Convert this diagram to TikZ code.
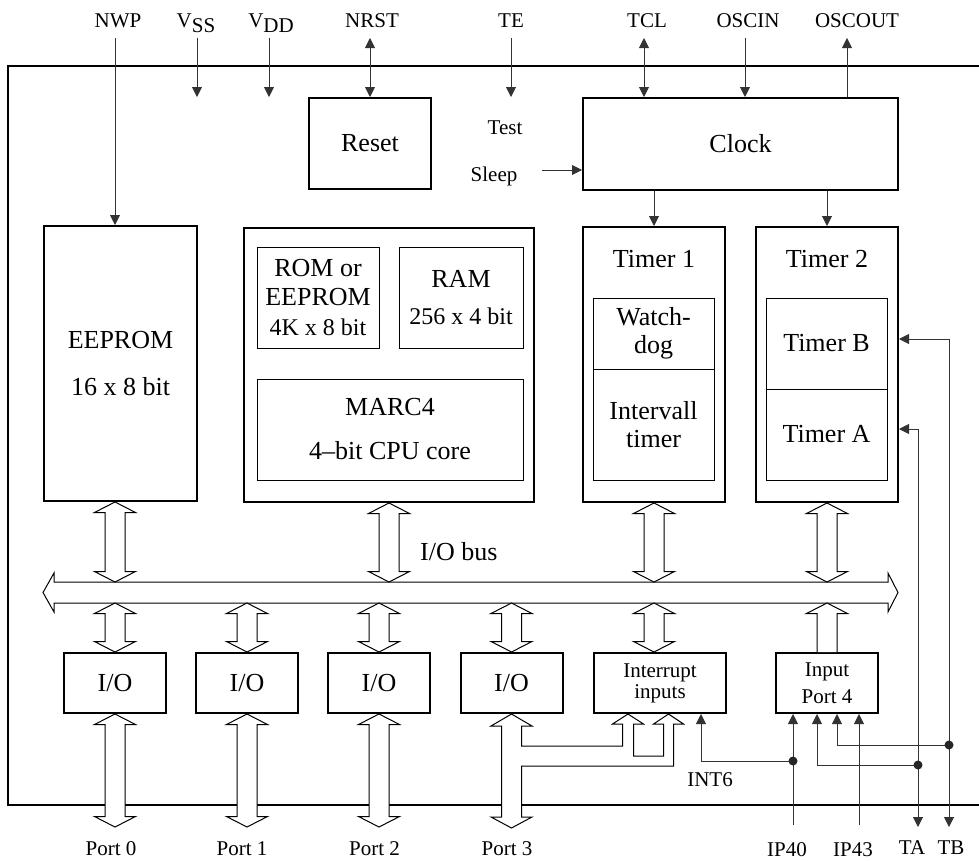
\documentclass[tikz,border=0pt]{standalone}
\usepackage{fontspec}
\setmainfont{Liberation Serif}
\usetikzlibrary{arrows.meta,calc}

% wide hollow arrow with a head at both ends (x taken from #1)
\newcommand{\hollowarrow}[2]{%
  \draw[hollow] let \p1=(#1), \p2=(#2) in
    (\x1,\y1) -- (\x1+20.5,\y1-10.5) -- (\x1+10,\y1-10.5)
    -- (\x1+10,\y2+10.5) -- (\x1+20.5,\y2+10.5) -- (\x1,\y2)
    -- (\x1-20.5,\y2+10.5) -- (\x1-10,\y2+10.5)
    -- (\x1-10,\y1-10.5) -- (\x1-20.5,\y1-10.5) -- cycle;}

\begin{document}
\begin{tikzpicture}[x=1pt,y=-1pt,
    box/.style={draw, line width=2pt, inner sep=0pt, align=center,
      font=\fontsize{26}{30}\selectfont},
    inbox/.style={draw, line width=1pt, inner sep=0pt, align=center,
      font=\fontsize{26}{28}\selectfont},
    txt/.style={inner sep=0pt, font=\fontsize{26}{30}\selectfont},
    lab/.style={inner sep=0pt, font=\fontsize{21}{24}\selectfont},
    sig/.style={draw=black!80, line width=0.9pt,
      >={Triangle[length=10pt,width=10pt]}},
    hollow/.style={draw, line width=1pt, fill=white, line join=miter},
    dot/.style={fill=black!85}]

  \useasboundingbox (0,0) rectangle (979,860);

  % chip outline
  \draw[line width=2pt] (979,66) -- (8,66) -- (8,805) -- (979,805);

  % blocks
  \node[box, minimum width=153pt, minimum height=275pt,
    font=\fontsize{26}{47}\selectfont] (eeprom) at (120.5,363.5) {EEPROM\\16 x 8 bit};

  \node[box, minimum width=290pt, minimum height=274pt] (cpu) at (389,365) {};
  \node[inbox, minimum width=122pt, minimum height=101pt,
    font=\fontsize{26}{29.5}\selectfont] (rom) at (318,297.5)
    {ROM or\\EEPROM\\{\fontsize{24}{29.5}\selectfont 4K x 8 bit}};
  \node[inbox, minimum width=124pt, minimum height=101pt,
    font=\fontsize{26}{37}\selectfont] (ram) at (461,297.5)
    {RAM\\{\fontsize{24}{37}\selectfont 256 x 4 bit}};
  \node[inbox, minimum width=266pt, minimum height=101pt,
    font=\fontsize{26}{44}\selectfont] (marc) at (390,429.5) {MARC4\\4--bit CPU core};

  \node[box, minimum width=122pt, minimum height=91pt] (reset) at (370,143.5) {Reset};
  \node[box, minimum width=315pt, minimum height=92pt] (clock) at (740.5,144) {Clock};
  \node[lab] (test) at (505,127.5) {Test};
  \node[lab] (sleep) at (494,176) {Sleep};

  \node[box, minimum width=142pt, minimum height=275pt] (timer1) at (654,364.5) {};
  \node[box, minimum width=142pt, minimum height=275pt] (timer2) at (827,364.5) {};
  \node[txt] (t1name) at ([shift={(0,33)}]timer1.north) {Timer 1};
  \node[txt] (t2name) at ([shift={(0,33)}]timer2.north) {Timer 2};
  \node[inbox, minimum width=121pt, minimum height=71pt] (wdog) at (653.5,333.5) {Watch-\\dog};
  \node[inbox, minimum width=121pt, minimum height=111pt] (ivt) at (653.5,424.5) {Intervall\\timer};
  \node[inbox, minimum width=121pt, minimum height=91pt] (tmb) at (826.5,343.5) {Timer B};
  \node[inbox, minimum width=121pt, minimum height=91pt] (tma) at (826.5,434.5) {Timer A};

  \node[minimum width=834pt, minimum height=21pt, inner sep=0pt, outer sep=0pt] (bus) at (471,592.5) {};
  \node[txt, anchor=west] (buslab) at (420,552) {I/O bus};

  \foreach \i/\x in {0/115,1/247,2/379,3/511.5}
    \node[box, minimum width=102pt, minimum height=60pt] (io\i) at (\x,683) {I/O};
  \node[box, minimum width=132pt, minimum height=60pt,
    font=\fontsize{21}{21}\selectfont] (int) at (660,683) {Interrupt\\inputs};
  \node[box, minimum width=102pt, minimum height=60pt,
    font=\fontsize{21}{27}\selectfont] (ip4) at (827,683) {Input\\Port 4};

  % pins
  \coordinate (pinbot) at (0,827);
  \foreach \name/\x in {nwpP/115, vssP/197, vddP/269, nrstP/370, teP/511,
      tclP/644, oscinP/745, oscoutP/847}
    \coordinate (\name) at (\x,38);
  \foreach \name/\x/\txt in {nwp/118/NWP, nrst/372/NRST, te/511/TE,
      tcl/647/TCL, oscin/748/OSCIN, oscout/857/OSCOUT}
    \node[lab, anchor=base] (\name) at (\x,27) {\txt};
  \node[lab, anchor=base] (vss) at (196,27) {V\raisebox{-5pt}{SS}};
  \node[lab, anchor=base] (vdd) at (271,27) {V\raisebox{-5pt}{DD}};

  \draw[sig,->] (nwpP) -- (nwpP |- eeprom.north);
  \draw[sig,->] (vssP) -- (vssP |- reset.north);
  \draw[sig,->] (vddP) -- (vddP |- reset.north);
  \draw[sig,<->] (nrstP) -- (reset.north);
  \draw[sig,->] (teP) -- (teP |- clock.north);
  \draw[sig,<->] (tclP) -- (tclP |- clock.north);
  \draw[sig,->] (oscinP) -- (oscinP |- clock.north);
  \draw[sig,->] (oscoutP |- clock.north) -- (oscoutP);
  \coordinate (sleepP) at (542,170);
  \draw[sig,->] (sleepP) -- (sleepP -| clock.west);
  \draw[sig,->] (timer1.north |- clock.south) -- (timer1.north);
  \draw[sig,->] (timer2.north |- clock.south) -- (timer2.north);

  % I/O bus
  \draw[hollow] ([shift={(-11,0)}]bus.west) -- ([shift={(0,-19.5)}]bus.west)
    -- (bus.north west) -- (bus.north east) -- ([shift={(0,-19.5)}]bus.east)
    -- ([shift={(10,0)}]bus.east) -- ([shift={(0,19.5)}]bus.east)
    -- (bus.south east) -- (bus.south west) -- ([shift={(0,19.5)}]bus.west) -- cycle;

  \hollowarrow{io0.north |- eeprom.south}{io0.north |- bus.north}
  \hollowarrow{cpu.south}{cpu.south |- bus.north}
  \hollowarrow{timer1.south}{timer1.south |- bus.north}
  \hollowarrow{timer2.south}{timer2.south |- bus.north}
  \foreach \i in {0,1,2,3}
    \hollowarrow{io\i.north |- bus.south}{io\i.north};
  \hollowarrow{timer1.south |- bus.south}{timer1.south |- int.north}
  \draw[hollow] let \p1=(ip4.north |- bus.south), \p2=(ip4.north) in
    (\x1-10,\y2) -- (\x1-10,\y1-10.5) -- (\x1-20.5,\y1-10.5) -- (\x1,\y1)
    -- (\x1+20.5,\y1-10.5) -- (\x1+10,\y1-10.5) -- (\x1+10,\y2);

  % ports
  \foreach \i in {0,1,2}
    \hollowarrow{io\i.south}{io\i.south |- pinbot};
  % port 3 with branch to the interrupt inputs
  \begin{scope}[shift={(io3.south)}]
    \draw[hollow] (0,0) -- (20.5,12) -- (10,12) -- (10,32) -- (111,32)
      -- (111,10) -- (101,10) -- (116.5,0) -- (132,10) -- (122,10)
      -- (122,42) -- (152,42) -- (152,10) -- (142,10) -- (157,0)
      -- (172,10) -- (162,10) -- (162,52) -- (10,52) -- (10,103)
      -- (20.5,103) -- (0,114) -- (-20.5,103) -- (-10,103) -- (-10,12)
      -- (-20.5,12) -- cycle;
  \end{scope}
  \foreach \i/\x in {0/111,1/242,2/374.5,3/507}
    \node[lab, anchor=base] (port\i) at (\x,855) {Port \i};

  % input port 4, timer pins
  \coordinate (ip40P) at (793,825);
  \coordinate (ip43P) at (859,825);
  \coordinate (taP) at (918,827);
  \coordinate (tbP) at (949,827);
  \coordinate (j40) at (793,761);
  \coordinate (jta) at (918,765);
  \coordinate (jtb) at (949,745);
  \coordinate (int6P) at ([shift={(41,0)}]int.south);

  \draw[sig,->] (ip40P) -- (ip40P |- ip4.south);
  \draw[sig,->] (ip43P) -- (ip43P |- ip4.south);
  \draw[sig,->] (j40) -| (int6P);
  \draw[sig,<->] ([shift={(0,64.5)}]timer2.east) -| (taP);
  \draw[sig,<->] ([shift={(0,-25.5)}]timer2.east) -| (tbP);
  \draw[sig,->] (jta) -| ([shift={(-10,0)}]ip4.south);
  \draw[sig,->] (jtb) -| ([shift={(10,0)}]ip4.south);
  \foreach \j in {j40,jta,jtb}
    \fill[dot] (\j) circle (4.5pt);

  \node[lab] (int6) at (710,780) {INT6};
  \node[lab, anchor=base] (ip40) at (787,856) {IP40};
  \node[lab, anchor=base] (ip43) at (853,856) {IP43};
  \node[lab, anchor=base] (ta) at (912,854) {TA};
  \node[lab, anchor=base] (tb) at (951,854) {TB};
\end{tikzpicture}
\end{document}
